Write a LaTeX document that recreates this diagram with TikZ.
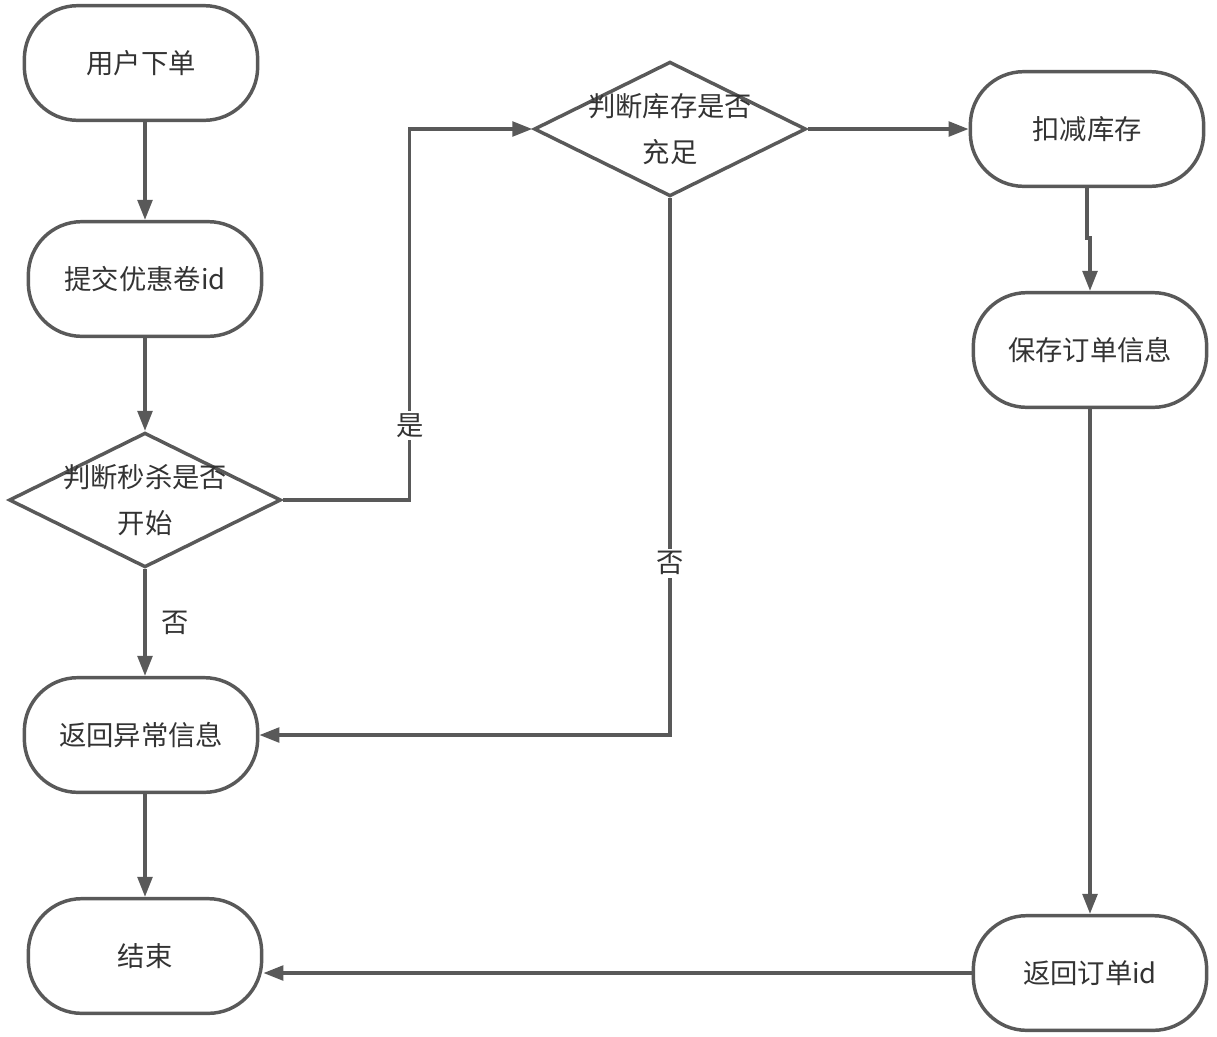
\documentclass[tikz,border=0pt]{standalone}
\usepackage{fontspec}
\setmainfont{Noto Sans CJK SC}
\usepackage{xcolor}
\usetikzlibrary{arrows.meta, shapes.geometric, positioning}

\definecolor{linegray}{HTML}{595959}
\definecolor{textgray}{HTML}{333333}

\begin{document}
\begin{tikzpicture}[x=0.75pt, y=-0.75pt, line width=2.6pt, draw=linegray,
    font=\fontsize{20.5}{35}\selectfont, text=textgray,
    term/.style={rectangle, rounded corners=40pt, draw=linegray, minimum width=175pt, minimum height=86pt, inner sep=0pt},
    check/.style={diamond, draw=linegray, minimum width=204pt, minimum height=101pt, inner sep=0pt},
    flow/.style={draw=linegray, -{Triangle[length=15pt, width=11pt]}},
    tag/.style={fill=white, inner sep=2pt}]

    \useasboundingbox (0,0) rectangle (1217,1036);

    % left column
    \node[term] (xiadan) at (141,63) {用户下单};
    \node[term] (tijiao) at (145,279) {提交优惠卷id};
    \node[check, label={[align=center]center:判断秒杀是否\\开始}] (miaosha) at (145,500) {};
    \node[term] (yichang) at (141,735) {返回异常信息};
    \node[term] (jieshu) at (145,956) {结束};

    % middle and right
    \node[check, label={[align=center]center:判断库存是否\\充足}] (kucun) at (670,129) {};
    \node[term] (koujian) at (1087,129) {扣减库存};
    \node[term] (baocun) at (1090,350) {保存订单信息};
    \node[term] (fanhui) at (1090,973) {返回订单id};

    \draw[flow] (xiadan.south -| tijiao.north) -- (tijiao.north);
    \draw[flow] (tijiao) -- (miaosha);
    \draw[flow] (miaosha.south) -- node[right=8pt] {否} (yichang.north -| miaosha.south);
    \draw[flow] (miaosha.east) -- ++(127,0) |- node[tag, pos=0.1] {是} (kucun.west);
    \draw[flow] (kucun.south) |- node[tag, pos=0.34] {否} (yichang.east);
    \draw[flow] (kucun) -- (koujian);
    \draw[flow] (koujian.south) -- ++(0,50) -| (baocun.north);
    \draw[flow] (yichang.south -| jieshu.north) -- (jieshu.north);
    \draw[flow] (baocun) -- (fanhui);
    \draw[flow] (fanhui.west) -- (fanhui.west -| jieshu.east);

\end{tikzpicture}
\end{document}
